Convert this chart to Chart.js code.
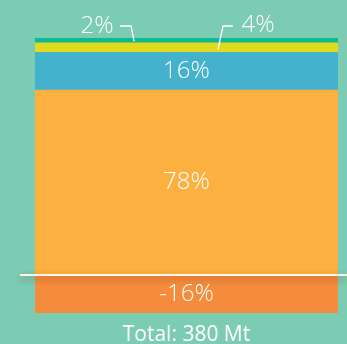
<!DOCTYPE html>
<html>
<head>
<meta charset="utf-8">
<script src="https://cdn.jsdelivr.net/npm/chart.js@4/dist/chart.umd.min.js"></script>
<style>
  html, body { margin: 0; padding: 0; background: #7ccbb3; }
  #wrap { width: 347px; height: 344px; position: relative; }
</style>
</head>
<body>
<div id="wrap"><canvas id="chart01"></canvas></div>
<script>
// share of total, stacked bottom -> top
const categories = ['Total'];
const segmentNames = ['neg', 'main', 'blue', 'yellow', 'green'];
const segmentValues = [-16, 78, 16, 4, 2];
const segmentColors = ['#f58b3c', '#fbb040', '#44b2cd', '#e1d91f', '#0db894'];
const totalLabel = 'Total: 380 Mt';

const FONT = '"Open Sans", "Noto Sans", sans-serif';

const datasets = segmentValues.map((v, i) => ({
    label: segmentNames[i],
    data: [v],
    backgroundColor: segmentColors[i],
    borderWidth: 0,
    categoryPercentage: 1,
    barPercentage: 1,
}));

// labels, callouts, baseline
const labelPlugin = {
    id: 'labelPlugin',
    afterDatasetsDraw(chart) {
        const { ctx } = chart;
        const y = chart.scales.y;
        const metas = chart.data.datasets.map((d, i) => chart.getDatasetMeta(i).data[0]);
        const left = metas[0].x - metas[0].width / 2;
        const w = metas[0].width;
        const cx = metas[0].x;

        // baseline with shadow
        const y0 = y.getPixelForValue(0);
        ctx.save();
        ctx.shadowColor = 'rgba(60,30,0,0.4)';
        ctx.shadowBlur = 7;
        ctx.shadowOffsetY = 3;
        ctx.strokeStyle = '#fdf6ea';
        ctx.lineWidth = 2;
        ctx.beginPath();
        ctx.moveTo(20, y0);
        ctx.lineTo(chart.width, y0);
        ctx.stroke();
        ctx.restore();

        ctx.save();
        ctx.fillStyle = '#ffffff';
        ctx.textAlign = 'center';
        ctx.textBaseline = 'middle';
        ctx.font = `300 24px ${FONT}`;
        // inner labels
        [0, 1, 2].forEach((i) => {
            const m = metas[i];
            ctx.fillText(`${segmentValues[i]}%`, cx, (m.y + m.base) / 2);
        });

        // callouts for thin segments
        const top = y.getPixelForValue(100);
        const ty = top - 12;
        ctx.strokeStyle = '#ffffff';
        ctx.lineWidth = 1.3;
        // green (2%)
        const gm = metas[4];
        const gx = left + w * 0.327;
        ctx.beginPath();
        ctx.moveTo(gx - 14, ty);
        ctx.lineTo(gx - 3, ty);
        ctx.lineTo(gx, (gm.y + gm.base) / 2 + 1);
        ctx.stroke();
        ctx.fillText(`${segmentValues[4]}%`, gx - 37, ty);
        // yellow (4%)
        const ym = metas[3];
        const yx = left + w * 0.604;
        ctx.beginPath();
        ctx.moveTo(yx + 15, ty);
        ctx.lineTo(yx + 5, ty);
        ctx.lineTo(yx, ym.base - 3);
        ctx.stroke();
        ctx.fillText(`${segmentValues[3]}%`, yx + 40, ty - 1);

        // total
        ctx.font = `400 21px ${FONT}`;
        ctx.fillText(totalLabel, cx, 335);
        ctx.restore();
    },
};

const ctx = document.getElementById('chart01').getContext('2d');
const chart = new Chart(ctx, {
    type: 'bar',
    data: { labels: categories, datasets },
    options: {
        responsive: true,
        maintainAspectRatio: false,
        animation: false,
        events: [],
        layout: { padding: { left: 35, right: 9, top: 38, bottom: 31 } },
        plugins: { legend: { display: false }, tooltip: { enabled: false } },
        scales: {
            x: { stacked: true, display: false },
            y: { stacked: true, display: false, min: -16, max: 100 },
        },
    },
    plugins: [labelPlugin],
});
</script>
</body>
</html>
